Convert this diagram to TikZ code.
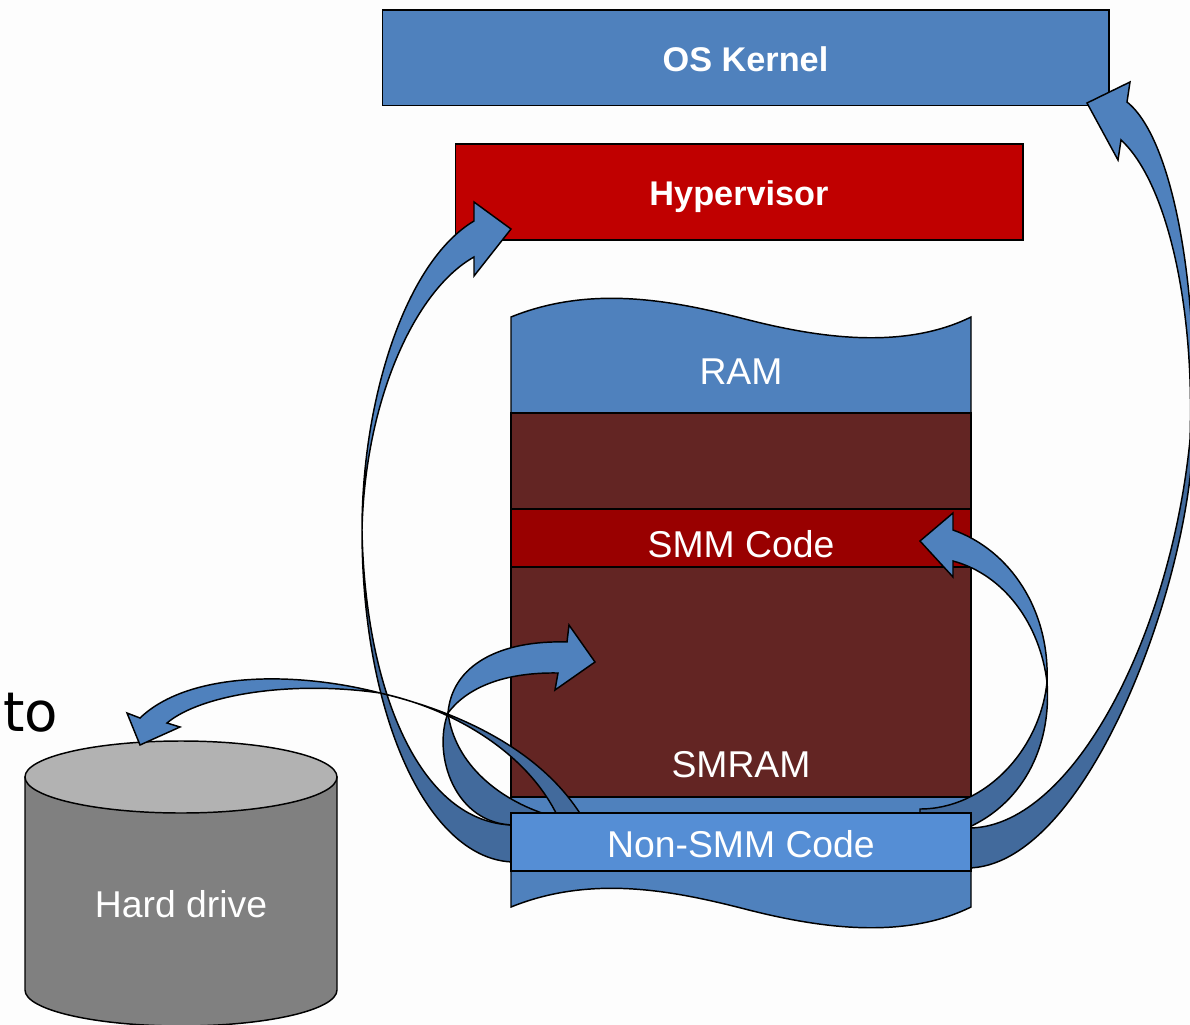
\documentclass[tikz,border=0pt]{standalone}
\usepackage{fontspec}
\setmainfont{Liberation Sans}
\newfontfamily\tofont{DejaVu Sans}
\definecolor{pagebg}{HTML}{FDFDFD}
\definecolor{blueA}{HTML}{4F81BD}
\definecolor{blueB}{HTML}{558ED5}
\definecolor{blueD}{HTML}{426A9C}
\definecolor{redA}{HTML}{C00000}
\definecolor{redB}{HTML}{990000}
\definecolor{brownA}{HTML}{632523}
\tikzset{
  shapeedge/.style={draw=black,line width=1.1pt,line join=miter},
  bluebox/.style={shapeedge,fill=blueA},
  darkband/.style={shapeedge,fill=blueD},
  lightband/.style={shapeedge,fill=blueA},
  lab/.style={text=white,font=\fontsize{28}{30}\selectfont,anchor=base,inner sep=0pt},
  boldlab/.style={text=white,font=\fontsize{25.7}{30}\selectfont\bfseries,anchor=base,inner sep=0pt},
}
\begin{document}
\begin{tikzpicture}[x=0.75pt,y=-0.75pt]
\useasboundingbox (0,0) rectangle (1190,1025);
\fill[pagebg] (0,0) rectangle (1190,1025);
\begin{scope}
\clip (0,0) rectangle (1190,1025);
% boxes
\path[bluebox] (382.5,10) rectangle (1109,105.5);
\path[shapeedge,fill=redA] (455.5,144) rectangle (1023,240);
% memory column
\path[bluebox] (511,317) .. controls (590,285) and (670,300) .. (741,318)
  .. controls (810,336) and (900,352) .. (971,317) -- (971,907)
  .. controls (900,942) and (810,926) .. (741,908)
  .. controls (670,890) and (590,875) .. (511,907) -- cycle;
\path[shapeedge,fill=brownA] (511,413) rectangle (971,797);
\path[shapeedge,fill=redB] (511,509) rectangle (971,567);
% cylinder
\path[shapeedge,fill=black!50] (25,777) -- (25,990) arc[start angle=180,end angle=0,x radius=156,y radius=36] -- (337,777) -- cycle;
\path[shapeedge,fill=black!30] (181,777) ellipse[x radius=156,y radius=36];
% dark back parts of the curved arrows
\path[darkband] (362,530) .. controls (365,690) and (420,825) .. (515,825)
  -- (515,862) .. controls (430,862) and (362,720) .. (362,530) -- cycle;
\path[darkband] (448,713) .. controls (432,755) and (455,825) .. (515,825)
  -- (548,815) .. controls (500,800) and (455,765) .. (448,713) -- cycle;
\path[darkband] (380,693) .. controls (460,712) and (540,750) .. (581,815)
  -- (557,815) .. controls (525,750) and (450,708) .. (380,693) -- cycle;
\path[darkband] (1047,682) .. controls (1040,750) and (985,809) .. (920,809)
  -- (920,816) -- (967,828) .. controls (1020,805) and (1052,750) .. (1047,682) -- cycle;
\path[darkband] (1190,440) .. controls (1170,640) and (1070,830) .. (967,828)
  -- (967,868) .. controls (1085,868) and (1188,590) .. (1193,440) -- cycle;
% light front parts with heads
\path[lightband] (362,530) .. controls (362,400) and (405,262) .. (474,221)
  -- (474,202) -- (511,229) -- (474,276) -- (474,257)
  .. controls (415,290) and (365,400) .. (362,530) -- cycle;
\path[lightband] (1192,440) .. controls (1200,300) and (1175,140) .. (1127,102)
  -- (1130,82) -- (1087,103) -- (1118,160) -- (1121,140)
  .. controls (1165,180) and (1195,300) .. (1190,440) -- cycle;
\path[lightband] (1047,682) .. controls (1050,610) and (1010,550) .. (953,530)
  -- (953,513) -- (920,541) -- (953,577) -- (953,561)
  .. controls (1005,575) and (1040,625) .. (1047,682) -- cycle;
\path[lightband] (448,713) .. controls (452,665) and (500,640) .. (567,642)
  -- (569,625) -- (595,662) -- (555,690) -- (558,673)
  .. controls (500,672) and (465,690) .. (448,713) -- cycle;
\path[lightband] (380,693) .. controls (300,672) and (190,670) .. (140,718)
  -- (127,713) -- (140,745) -- (180,727) -- (167,723)
  .. controls (200,695) and (290,680) .. (380,693) -- cycle;
% front box
\path[shapeedge,fill=blueB] (511,813) rectangle (971,871);
\end{scope}
% labels
\node[boldlab] (oskernel) at (745.5,71) {OS Kernel};
\node[boldlab] (hyper) at (739,205) {Hypervisor};
\node[lab] (ram) at (741,384) {RAM};
\node[lab] (smmcode) at (741,557) {SMM Code};
\node[lab] (smram) at (741,777) {SMRAM};
\node[lab] (nonsmm) at (741,857) {Non-SMM Code};
\node[lab] (hdd) at (181,917) {Hard drive};
\node[anchor=base west,inner sep=0pt,font=\tofont\fontsize{41}{44}\selectfont] (towrd) at (3,731) {to};
\end{tikzpicture}
\end{document}
